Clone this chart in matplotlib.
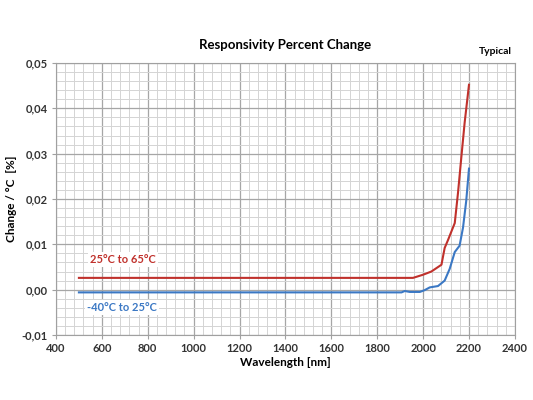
import matplotlib.pyplot as plt
import numpy as np
from matplotlib.ticker import MultipleLocator, FuncFormatter

plt.rcParams['font.family'] = ['Lato', 'DejaVu Sans']

# 25°C to 65°C (red)
wl_hot = [500, 1956, 2000, 2036, 2080, 2094, 2109, 2138, 2152, 2167, 2181, 2200]
chg_hot = [0.0026, 0.0026, 0.0033, 0.0040, 0.0055, 0.0092, 0.0110, 0.0147, 0.0213, 0.0294, 0.0368, 0.0452]

# -40°C to 25°C (blue)
wl_cold = [500, 1906, 1920, 1942, 1986, 2007, 2029, 2065, 2094, 2116, 2138, 2159, 2174, 2188, 2200]
chg_cold = [-0.0006, -0.0006, -0.0003, -0.0005, -0.0005, -0.0001, 0.0005, 0.0008, 0.0020, 0.0046,
            0.0083, 0.0097, 0.0137, 0.0196, 0.0267]

red = '#c0312c'
blue = '#3b78c4'

fig = plt.figure(figsize=(5.33, 4), dpi=100)
ax = fig.add_axes([0.105, 0.1625, 0.861, 0.68])

ax.plot(wl_hot, chg_hot, color=red, lw=1.5)
ax.plot(wl_cold, chg_cold, color=blue, lw=1.5)

ax.set_xlim(400, 2400)
ax.set_ylim(-0.01, 0.05)
ax.xaxis.set_major_locator(MultipleLocator(200))
ax.xaxis.set_minor_locator(MultipleLocator(40))
ax.yaxis.set_major_locator(MultipleLocator(0.01))
ax.yaxis.set_minor_locator(MultipleLocator(0.002))
ax.yaxis.set_major_formatter(FuncFormatter(lambda v, p: f'{v:.2f}'.replace('.', ',').replace('-0,00', '0,00')))
ax.grid(which='major', color='#a6a6a6', lw=0.9)
ax.grid(which='minor', color='#d4d4d4', lw=0.7)
ax.set_axisbelow(True)
for s in ax.spines.values():
    s.set_color('#a0a0a0')
ax.tick_params(which='major', length=3, color='#a0a0a0', labelsize=8, pad=3)
ax.tick_params(which='minor', length=0)
for lab in ax.get_xticklabels() + ax.get_yticklabels():
    lab.set_fontweight('bold')
    lab.set_color('#333333')

ax.set_xlabel('Wavelength [nm]', fontsize=8.5, fontweight='bold', labelpad=2)
ax.set_ylabel('Change / °C  [%]', fontsize=8.5, fontweight='bold', labelpad=3)
ax.set_title('Responsivity Percent Change', fontsize=9.5, fontweight='bold', pad=10)
fig.text(0.96, 0.86, 'Typical', ha='right', va='bottom', fontsize=7.5, fontweight='bold')

ax.text(548, 0.0066, '25°C to 65°C', color=red, fontsize=8, fontweight='bold', va='center',
        bbox=dict(facecolor='white', edgecolor='none', pad=1.5))
ax.text(535, -0.0039, '-40°C to 25°C', color=blue, fontsize=8, fontweight='bold', va='center',
        bbox=dict(facecolor='white', edgecolor='none', pad=1.5))

fig.savefig('out.png', dpi=100)
